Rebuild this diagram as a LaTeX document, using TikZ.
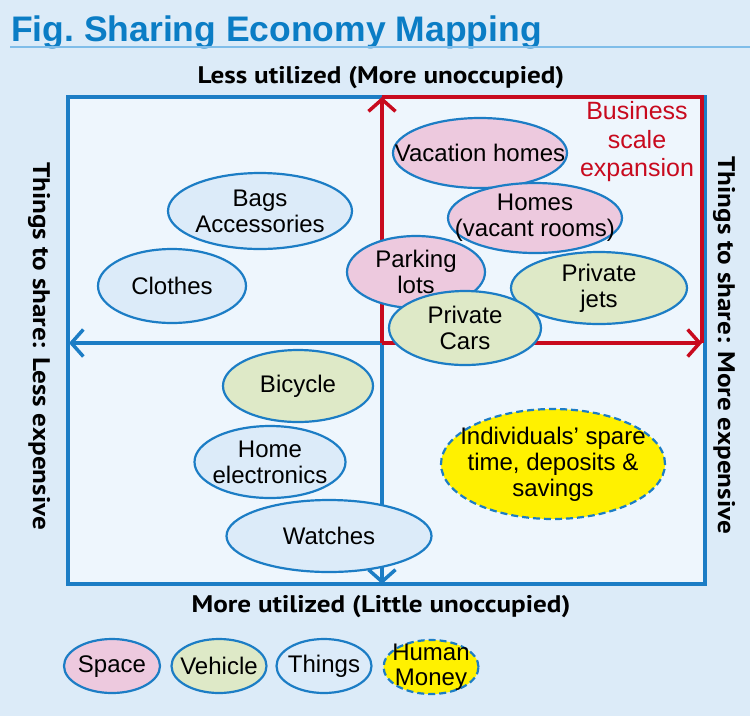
\documentclass[tikz,border=0pt]{standalone}
\usepackage{fontspec}
\setmainfont{Liberation Sans}
\newfontfamily\axisfont{PT Sans}
\usetikzlibrary{shapes.geometric,arrows.meta}
\definecolor{bgblue}{HTML}{DCEBF8}
\definecolor{innerbg}{HTML}{EEF6FD}
\definecolor{lineblue}{HTML}{1C7DC5}
\definecolor{titleblue}{HTML}{0B7DC5}
\definecolor{rulecol}{HTML}{7FBDE9}
\definecolor{bizred}{HTML}{C80A1E}
\definecolor{spacefill}{HTML}{EDC9DE}
\definecolor{vehfill}{HTML}{DEE9C7}
\definecolor{thingfill}{HTML}{DCEBF9}
\definecolor{humanfill}{HTML}{FFF100}
\newcommand{\axtext}[1]{\scalebox{1.13}[1]{#1}}
\begin{document}
\begin{tikzpicture}[x=1pt,y=-1pt,
  bub/.style={ellipse, draw=lineblue, line width=2.2pt, inner xsep=-40pt, inner ysep=-30pt,
    font=\fontsize{24}{26}\selectfont, align=center, text=black},
  spacebub/.style={bub, fill=spacefill},
  vehbub/.style={bub, fill=vehfill},
  thingbub/.style={bub, fill=thingfill},
  humanbub/.style={bub, fill=humanfill, dash pattern=on 7pt off 4pt},
  axislabel/.style={font=\axisfont\bfseries\fontsize{24}{26}\selectfont, text=black, inner sep=0pt},
  blueline/.style={draw=lineblue, line width=3.5pt},
  redline/.style={draw=bizred, line width=3.5pt},
  barb/.style={-{Straight Barb[length=12pt,width=27pt]}}
]
\useasboundingbox (0,0) rectangle (750,716);
\fill[bgblue] (0,0) rectangle (750,716);
% title
\node[anchor=base west, inner sep=0pt, text=titleblue, font=\bfseries\fontsize{35.5}{40}\selectfont] (title) at (11,41) {Fig.\ Sharing Economy Mapping};
\coordinate (rl) at (10,47);
\coordinate (rr) at (750,47);
\draw[rulecol, line width=2pt] (rl) -- (rr);
% axis labels
\node[axislabel, anchor=base] (top) at (381,83) {\axtext{Less utilized (More unoccupied)}};
\node[axislabel, anchor=base] (bot) at (381,612) {\axtext{More utilized (Little unoccupied)}};
\node[axislabel, rotate=-90] (left) at (39,346) {\axtext{Things to share: Less expensive}};
\node[axislabel, rotate=-90] (right) at (724,345) {\axtext{Things to share: More expensive}};
% main box
\fill[innerbg] (68,97) rectangle (705,584);
\draw[blueline] (68,97) rectangle (705,584);
\coordinate (O) at (382,343);
\coordinate (W) at (69,343);
\coordinate (S) at (382,584);
\coordinate (N) at (382,97);
\coordinate (NE) at (702,97);
\coordinate (E) at (702,343);
\draw[blueline, barb] (O) -- (W);
\draw[blueline, barb] (O) -- (S);
\draw[redline, line join=miter] (N) -- (NE) -- (E);
\draw[redline, barb] (O) -- (N);
\draw[redline, barb] (O) -- (E);
\node[text=bizred, align=center, font=\fontsize{25}{28.5}\selectfont, inner sep=0pt] (biz) at (637,142) {Business\\scale\\expansion};
% ellipses upper left
\node[thingbub, minimum width=184pt, minimum height=76pt] (bags) at (260,211) {Bags\\Accessories};
\node[thingbub, minimum width=148pt, minimum height=74pt] (clothes) at (172,286) {Clothes};
% upper right
\node[spacebub, minimum width=174pt, minimum height=70pt] (vac) at (480,153) {Vacation homes};
\node[spacebub, minimum width=174pt, minimum height=70pt] (homes) at (535,218) {Homes\\(vacant rooms)};
\node[spacebub, minimum width=138pt, minimum height=72pt] (park) at (416,272) {Parking\\lots};
\node[vehbub, minimum width=176pt, minimum height=72pt] (jets) at (599,288) {Private\\jets};
\node[vehbub, minimum width=152pt, minimum height=74pt] (cars) at (465,328) {Private\\Cars};
% lower
\node[vehbub, minimum width=150pt, minimum height=72pt] (bike) at (298,386) {Bicycle};
\node[thingbub, minimum width=151pt, minimum height=72pt] (elec) at (270,462) {Home\\electronics};
\node[thingbub, minimum width=205pt, minimum height=72pt] (watch) at (329,536) {Watches};
\node[humanbub, minimum width=224pt, minimum height=110pt] (indiv) at (553,464) {Individuals’ spare\\time, deposits \&\\savings};
% legend
\node[spacebub, minimum width=96pt, minimum height=54pt] (lspace) at (112,666) {Space\vphantom{Th}};
\node[vehbub, minimum width=95pt, minimum height=54pt] (lveh) at (219,666) {Vehicle};
\node[thingbub, minimum width=95pt, minimum height=54pt] (lthing) at (324,666) {Things};
\node[humanbub, minimum width=95pt, minimum height=54pt, font=\fontsize{24}{25}\selectfont] (lhuman) at (431,667) {Human\\Money};
\end{tikzpicture}
\end{document}
